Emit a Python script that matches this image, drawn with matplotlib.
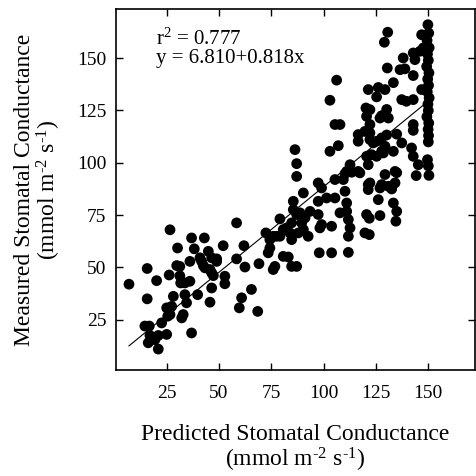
import numpy as np
import matplotlib
matplotlib.use("Agg")
import matplotlib.pyplot as plt

plt.rcParams['font.family'] = ['Liberation Serif', 'DejaVu Serif']
plt.rcParams['mathtext.fontset'] = 'custom'
plt.rcParams['mathtext.rm'] = 'Liberation Serif'
plt.rcParams['mathtext.it'] = 'Liberation Serif:italic'

# predicted / measured stomatal conductance (mmol m-2 s-1)
predicted = [
    7.0, 15.7, 15.7, 14.6, 16.7, 17.0, 16.2, 19.4, 21.0, 21.0, 20.2, 22.6, 25.0, 25.5, 26.6,
    25.0, 27.4, 28.2, 26.2, 26.6, 29.8,
    30.2, 31.3, 31.3, 31.7, 32.2, 32.9, 33.7, 33.7, 34.5, 36.1, 36.1, 36.9, 36.9, 38.2,
    39.8, 40.9, 41.7, 42.5, 43.0, 43.3, 44.9, 45.7, 45.7, 46.5, 46.5, 46.5, 47.3, 48.9, 48.9,
    52.0, 52.8, 52.8, 58.4, 58.4, 59.7, 60.8, 61.9, 62.4, 65.5, 68.5, 69.1, 72.4, 73.5,
    74.3, 74.3, 75.9, 75.9, 76.7,
    77.5, 79.1, 79.1, 80.7, 80.7, 82.3, 83.1, 83.9, 84.7, 84.7, 84.7, 85.5, 85.5, 86.3,
    87.1, 87.1, 87.1, 87.1, 87.9, 88.7, 89.5, 90.3, 90.3, 91.1, 92.6, 93.5, 97.4, 97.4,
    97.4, 97.9, 98.2, 99.0, 99.0,
    101.4, 103.0, 103.0, 103.8, 103.8, 105.4, 105.4, 105.4, 106.2, 107.0, 107.8, 107.8,
    109.4, 110.2, 110.2, 111.0, 111.0, 111.0, 111.8, 111.8, 111.8, 112.6, 112.6, 113.4,
    116.5, 116.5, 116.5, 117.3, 119.7, 119.7, 120.2, 120.5, 120.5, 120.5, 121.3, 121.3,
    121.3, 121.3, 121.8, 121.8, 122.1, 122.1, 122.1, 122.1, 122.9, 122.1, 123.7, 125.3,
    125.3, 125.3,
    126.1, 126.1, 126.9, 126.9, 126.9, 127.7, 127.7, 127.7, 127.7, 128.5, 129.0, 129.3,
    129.3, 129.3, 130.1, 130.1, 130.4, 130.6, 130.9, 130.9, 132.5, 133.3, 133.3, 133.3,
    134.1, 134.1, 134.5, 134.9, 134.9, 134.9, 136.5, 137.3, 137.3, 138.0, 138.8, 139.5,
    142.0, 142.8, 142.8, 142.8, 142.8, 142.8, 142.8, 143.6, 144.2,
    145.2, 146.0, 146.8, 146.8, 147.6,
    149.8, 150.2, 149.4, 150.4, 149.6, 150.0, 149.2, 150.3, 149.7, 150.1, 149.5, 150.4,
    149.8, 150.0, 149.3, 150.2, 149.9, 150.1, 149.6, 150.0, 150.3, 150.0,
]
measured = [
    42.0, 49.5, 35.0, 22.0, 22.0, 17.5, 14.0, 15.5, 11.0, 17.5, 43.7, 23.5, 18.0, 26.7, 27.5,
    30.7, 31.4, 36.2, 46.4, 68.0, 50.9,
    59.3, 50.5, 46.0, 42.6, 25.9, 27.5, 37.0, 42.6, 33.1, 43.4, 52.9, 64.1, 18.7, 58.9,
    37.0, 54.6, 52.9, 50.9, 64.1, 49.8, 57.7, 49.0, 33.4, 54.6, 47.4, 40.2, 46.1, 54.1, 52.9,
    60.4, 45.8, 42.2, 71.3, 54.1, 30.7, 35.5, 60.4, 50.2, 39.5, 29.0, 51.8, 66.5, 57.0,
    59.3, 63.3, 64.9, 49.0, 50.5,
    64.9, 73.2, 64.9, 68.1, 55.3, 68.9, 55.0, 66.5, 71.3, 63.3, 50.5, 81.6, 77.6, 106.3,
    99.6, 93.5, 75.3, 50.5, 66.5, 76.1, 71.3, 85.6, 68.1, 73.7, 64.9, 76.8, 90.4, 81.6,
    75.3, 57.0, 68.9, 88.0, 70.5,
    83.2, 105.5, 129.9, 69.7, 57.0, 92.0, 83.2, 118.3, 139.5, 108.2, 118.3, 76.1,
    92.0, 94.8, 86.4, 95.9, 80.8, 76.8, 72.9, 64.9, 57.2, 99.1, 68.9, 95.5,
    113.5, 110.3, 95.9, 95.2, 115.0, 66.5, 126.2, 122.2, 103.1, 75.3, 135.0, 99.1,
    87.2, 89.6, 73.5, 65.7, 125.4, 118.3, 114.3, 111.1, 103.9, 90.4, 109.5, 131.5,
    110.3, 103.1,
    136.0, 82.4, 121.4, 88.0, 74.8, 122.5, 111.9, 105.5, 89.6, 104.7, 157.6, 135.0,
    107.9, 94.4, 125.5, 113.3, 145.3, 162.4, 121.4, 88.8, 87.5, 138.3, 105.5, 80.8,
    95.9, 90.4, 72.1, 113.7, 95.3, 76.8, 144.5, 130.2, 109.5, 150.1, 144.9, 129.4,
    107.1, 152.5, 141.7, 130.2, 118.3, 115.5, 103.1, 149.3, 93.9,
    99.1, 153.3, 161.2, 135.0, 154.9,
    166.0, 162.0, 158.5, 155.0, 152.0, 149.0, 146.0, 143.0, 140.0, 137.0, 134.0, 131.0,
    128.0, 125.0, 122.0, 119.0, 116.0, 113.0, 101.5, 98.5, 94.0, 110.0,
]

intercept = 6.810
slope = 0.818
r2 = 0.777

x_ticks = [25, 50, 75, 100, 125, 150]
y_ticks = [25, 50, 75, 100, 125, 150]

fig = plt.figure(figsize=(4.76, 4.76), dpi=100)
ax = fig.add_axes([116 / 476, 106 / 476, 359 / 476, 361 / 476])

ax.scatter(predicted, measured, s=60, color='black', edgecolors='none', zorder=3)

xl = np.array([min(predicted), max(predicted)])
ax.plot(xl, intercept + slope * xl, color='black', lw=0.8, zorder=2)

ax.set_xlim(0.8, 172.3)
ax.set_ylim(1.0, 173.5)
ax.set_xticks(x_ticks)
ax.set_yticks(y_ticks)
ax.tick_params(direction='in', length=5, width=1, top=True, right=True,
               labelsize=14, colors='black')
ax.tick_params(axis='x', pad=11)
ax.tick_params(axis='y', pad=7)
for sp in ax.spines.values():
    sp.set_linewidth(1.2)

unit = "(mmol m$^{\\text{-2}}$ s$^{\\text{-1}}$)"
ax.set_xlabel("Predicted Stomatal Conductance\n" + unit, fontsize=17,
              labelpad=16, linespacing=1.0)
ax.set_ylabel("Measured Stomatal Conductance\n" + unit, fontsize=17,
              labelpad=10, linespacing=1.0)

ax.text(0.111, 0.900, "r$^2$ = %.3f" % r2, transform=ax.transAxes, fontsize=15)
ax.text(0.111, 0.850, "y = %.3f+%.3fx" % (intercept, slope), transform=ax.transAxes,
        fontsize=15)

fig.savefig("out.png", dpi=100)
